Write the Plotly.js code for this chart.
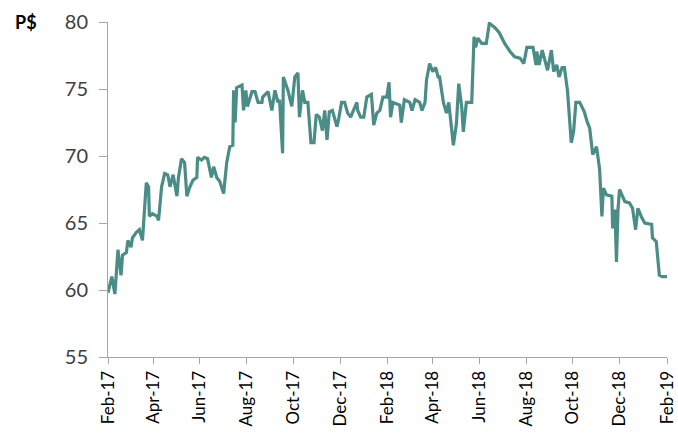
<!DOCTYPE html>
<html>
<head>
<meta charset="utf-8">
<script src="https://cdn.plot.ly/plotly-3.0.1.min.js"></script>
<style>html,body{margin:0;padding:0;background:#fff;}#chart{width:678px;height:441px;}</style>
</head>
<body>
<div id="chart"></div>
<script>
const dates = [
"2017-02-01","2017-02-06","2017-02-10","2017-02-14","2017-02-18","2017-02-20","2017-02-25","2017-02-27",
"2017-03-03","2017-03-05","2017-03-10","2017-03-14","2017-03-18","2017-03-23","2017-03-26","2017-03-27","2017-03-31",
"2017-04-06","2017-04-08","2017-04-12","2017-04-16","2017-04-20","2017-04-23","2017-04-27",
"2017-05-02","2017-05-04","2017-05-08","2017-05-12","2017-05-15","2017-05-19","2017-05-23","2017-05-28","2017-05-29",
"2017-06-03","2017-06-07","2017-06-11","2017-06-16","2017-06-19","2017-06-23","2017-06-27",
"2017-07-02","2017-07-06","2017-07-10","2017-07-14","2017-07-15","2017-07-17","2017-07-19","2017-07-23","2017-07-26","2017-07-28","2017-07-31",
"2017-08-02","2017-08-08","2017-08-12","2017-08-16","2017-08-21","2017-08-22","2017-08-29",
"2017-09-03","2017-09-07","2017-09-11","2017-09-13","2017-09-17","2017-09-18","2017-09-24","2017-09-29",
"2017-10-03","2017-10-07","2017-10-09","2017-10-13","2017-10-16","2017-10-20","2017-10-24","2017-10-28","2017-10-31",
"2017-11-04","2017-11-08","2017-11-11","2017-11-14","2017-11-17","2017-11-21","2017-11-27","2017-11-29",
"2017-12-03","2017-12-07","2017-12-11","2017-12-15","2017-12-17","2017-12-23","2017-12-24","2017-12-28",
"2018-01-01","2018-01-05","2018-01-11","2018-01-14","2018-01-18","2018-01-22","2018-01-26","2018-01-31",
"2018-02-03","2018-02-05","2018-02-08","2018-02-17","2018-02-19","2018-02-23",
"2018-03-02","2018-03-05","2018-03-09","2018-03-15","2018-03-18","2018-03-22","2018-03-24","2018-03-28",
"2018-04-01","2018-04-05","2018-04-08","2018-04-10","2018-04-15","2018-04-19","2018-04-22","2018-04-26","2018-04-28",
"2018-05-02","2018-05-05","2018-05-09","2018-05-11","2018-05-15","2018-05-19","2018-05-22","2018-05-25","2018-05-27","2018-05-30",
"2018-06-04","2018-06-10","2018-06-14","2018-06-21","2018-06-27",
"2018-07-04","2018-07-11","2018-07-17","2018-07-24","2018-07-29",
"2018-08-02","2018-08-10","2018-08-14","2018-08-15","2018-08-18","2018-08-22","2018-08-26","2018-08-29",
"2018-09-03","2018-09-06","2018-09-10","2018-09-13","2018-09-17","2018-09-20","2018-09-24","2018-09-29",
"2018-10-02","2018-10-05","2018-10-10","2018-10-16","2018-10-20","2018-10-23","2018-10-27",
"2018-11-01","2018-11-05","2018-11-08","2018-11-10","2018-11-14","2018-11-21","2018-11-22","2018-11-25","2018-11-27","2018-11-29",
"2018-12-01","2018-12-08","2018-12-14","2018-12-18","2018-12-22","2018-12-25","2018-12-30",
"2019-01-03","2019-01-12","2019-01-13","2019-01-18","2019-01-22","2019-01-26","2019-02-01"
];
const prices = [
59.8,61.0,59.7,63.0,61.1,62.6,62.8,63.7,
63.2,63.9,64.3,64.5,63.7,68.0,67.7,65.5,65.7,
65.5,65.2,67.7,68.7,68.6,67.7,68.6,
67.0,68.4,69.8,69.5,67.0,67.7,68.2,68.4,69.9,
69.7,69.9,69.8,68.4,69.2,68.4,68.1,
67.2,69.5,70.7,70.8,74.9,72.5,75.1,75.2,75.3,73.4,74.9,
73.7,74.8,74.8,74.0,74.0,74.4,74.8,
73.4,74.9,74.0,74.2,70.2,75.9,74.9,73.7,
75.9,76.2,72.9,74.9,74.0,74.0,71.0,71.0,73.1,
72.9,71.9,73.4,71.2,73.3,73.4,72.2,72.7,
74.0,74.0,73.2,72.9,73.2,74.0,73.4,72.9,
72.9,74.4,74.6,72.3,73.2,73.4,74.4,74.4,
75.5,72.9,74.0,73.8,72.5,74.2,
74.0,73.4,74.2,74.0,73.4,74.0,75.7,76.9,
76.3,76.6,75.9,75.9,74.0,73.2,74.0,71.9,70.8,
72.4,75.4,73.6,71.8,74.0,74.0,74.0,78.9,78.1,78.8,
78.4,78.4,79.9,79.6,79.2,
78.4,77.8,77.4,77.3,76.9,
78.1,78.1,76.8,77.8,76.8,77.9,77.0,76.4,
77.9,76.3,76.8,75.9,76.6,76.6,74.9,71.0,
71.8,74.0,74.0,73.3,72.5,72.1,70.1,
70.7,69.0,65.5,67.6,67.1,67.0,64.6,66.0,62.1,66.0,
67.5,66.6,66.5,66.1,64.5,66.1,65.4,
65.0,64.9,63.9,63.6,61.1,61.0,61.0
];
const yTicks = [55, 60, 65, 70, 75, 80];
const unitLabel = "P$";

const font = "Lato, 'Open Sans', sans-serif";
Plotly.newPlot("chart", [{
  x: dates, y: prices, type: "scatter", mode: "lines",
  line: {color: "#4a8c86", width: 3.2}, hoverinfo: "skip"
}], {
  width: 678, height: 441,
  margin: {l: 108, r: 11, t: 22, b: 84},
  paper_bgcolor: "#fff", plot_bgcolor: "#fff",
  showlegend: false,
  xaxis: {
    type: "date", range: ["2017-02-01", "2019-02-01"],
    tick0: "2017-02-01", dtick: "M2", tickformat: "%b-%y",
    tickangle: -90, ticks: "outside", ticklen: 6, tickcolor: "#a6a6a6",
    showline: true, linecolor: "#a6a6a6", linewidth: 1,
    showgrid: false, zeroline: false,
    tickfont: {family: font, size: 17, color: "#000"}
  },
  yaxis: {
    range: [55, 80], tickvals: yTicks,
    ticks: "outside", ticklen: 8, tickcolor: "#a6a6a6",
    showline: true, linecolor: "#a6a6a6", linewidth: 1,
    showgrid: false, zeroline: false,
    tickfont: {family: font, size: 20, color: "#404040"},
    ticklabelstandoff: 7
  },
  annotations: [{
    text: "<b>" + unitLabel + "</b>", xref: "paper", yref: "paper",
    x: -0.146, y: 1.0, xanchor: "center", yanchor: "middle", showarrow: false,
    font: {family: font, size: 18, color: "#000"}
  }]
}, {displayModeBar: false, staticPlot: true});
</script>
</body>
</html>
